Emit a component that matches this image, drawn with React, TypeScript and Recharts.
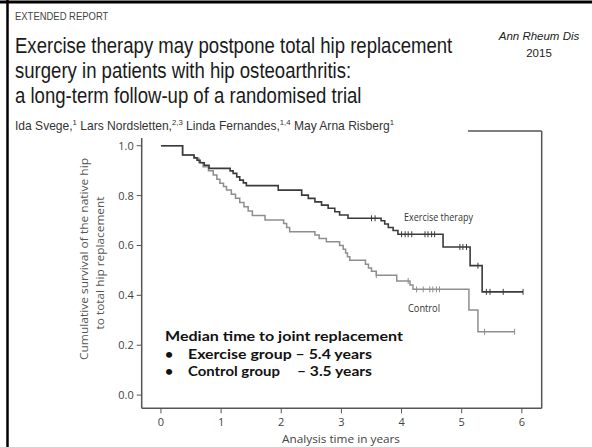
import { ComposedChart, Line, Scatter, XAxis, YAxis } from 'recharts';

// Kaplan-Meier steps (time in years, cumulative survival)
const exerciseTimes = [0, 0.36, 0.55, 0.6, 0.65, 0.72, 0.8, 1.15, 1.2, 1.26, 1.31, 1.37, 1.42, 1.95, 2.34, 2.45, 2.56, 2.67, 2.78, 2.89, 2.97, 3.11, 3.66, 3.72, 3.78, 3.86, 3.94, 4.69, 5.14, 5.34, 6.02];
const exerciseSurvival = [1.0, 0.963, 0.952, 0.942, 0.932, 0.922, 0.909, 0.899, 0.889, 0.875, 0.862, 0.851, 0.84, 0.822, 0.802, 0.789, 0.775, 0.762, 0.749, 0.735, 0.722, 0.709, 0.699, 0.686, 0.672, 0.66, 0.645, 0.594, 0.519, 0.414, 0.414];
const exerciseCensored = [3.5, 3.56, 4.0, 4.06, 4.11, 4.17, 4.39, 4.44, 4.5, 4.55, 4.97, 5.02, 5.08, 5.27, 5.41, 5.47, 5.69, 6.02];

const controlTimes = [0, 0.36, 0.55, 0.63, 0.7, 0.79, 0.87, 0.93, 0.98, 1.04, 1.09, 1.17, 1.24, 1.31, 1.38, 1.45, 1.52, 1.73, 2.04, 2.09, 2.14, 2.56, 2.63, 2.75, 2.97, 3.03, 3.07, 3.1, 3.14, 3.4, 3.45, 3.5, 3.58, 3.92, 4.14, 4.19, 5.12, 5.27, 5.88];
const controlSurvival = [1.0, 0.963, 0.95, 0.933, 0.916, 0.9, 0.883, 0.866, 0.85, 0.836, 0.822, 0.805, 0.789, 0.772, 0.755, 0.738, 0.72, 0.702, 0.688, 0.672, 0.655, 0.642, 0.628, 0.615, 0.6, 0.585, 0.57, 0.555, 0.541, 0.525, 0.51, 0.497, 0.481, 0.458, 0.441, 0.424, 0.341, 0.254, 0.254];
const controlCensored = [3.58, 4.11, 4.25, 4.36, 4.47, 4.52, 4.58, 4.63, 5.38, 5.88];

const xTicks = [0, 1, 2, 3, 4, 5, 6];
const yTicks = [0, 0.2, 0.4, 0.6, 0.8, 1.0];

const toRows = (times: number[], vals: number[]) => times.map((t, i) => ({ t, s: vals[i] }));

// survival value at a censoring time = level of the step curve there
const censorRows = (times: number[], vals: number[], cens: number[]) =>
  cens.map(c => {
    let i = 0;
    while (i + 1 < times.length && times[i + 1] <= c) i++;
    return { t: c, s: vals[i] };
  });

const exerciseData = toRows(exerciseTimes, exerciseSurvival);
const controlData = toRows(controlTimes, controlSurvival);
const exerciseCens = censorRows(exerciseTimes, exerciseSurvival, exerciseCensored);
const controlCens = censorRows(controlTimes, controlSurvival, controlCensored);

const DARK = '#3a3a3a';
const GREY = '#8e8e8e';
const AXIS = '#555';
const chartFont = '"Open Sans", "Liberation Sans", sans-serif';
const headFont = '"Liberation Sans", Arial, sans-serif';
const boldFont = '"Lato", "Open Sans", sans-serif';

const tickMark = (color: string) => (props: any) => {
  const { cx, cy } = props;
  if (cx == null || cy == null) return <g />;
  return <line x1={cx} x2={cx} y1={cy - 3} y2={cy + 3} stroke={color} strokeWidth={1} />;
};

export default function App() {
  return (
    <div style={{ position: 'absolute', left: 0, top: 0, width: 592, height: 447, background: '#fff', overflow: 'hidden' }}>
      <div style={{ position: 'absolute', left: 0, top: 0 }}>
        <ComposedChart width={592} height={447} margin={{ top: 138, right: 50.3, bottom: 8.7, left: 81.7 }}>
          <XAxis
            type="number"
            dataKey="t"
            domain={[-0.32, 6.33]}
            ticks={xTicks}
            allowDataOverflow
            height={30}
            tickSize={5}
            tickMargin={5}
            axisLine={{ stroke: AXIS, strokeWidth: 1.5 }}
            tickLine={{ stroke: AXIS }}
            tick={{ fill: '#444', fontSize: 11, fontFamily: chartFont }}
          />
          <YAxis
            type="number"
            dataKey="s"
            domain={[-0.053, 1.031]}
            ticks={yTicks}
            allowDataOverflow
            width={60}
            tickSize={5}
            tickMargin={3}
            tickFormatter={(v: number) => v.toFixed(1)}
            axisLine={{ stroke: AXIS, strokeWidth: 1.5 }}
            tickLine={{ stroke: AXIS }}
            tick={{ fill: '#444', fontSize: 11, fontFamily: chartFont }}
          />
          <Line data={controlData} dataKey="s" type="stepAfter" stroke={GREY} strokeWidth={1.5} dot={false} isAnimationActive={false} />
          <Line data={exerciseData} dataKey="s" type="stepAfter" stroke={DARK} strokeWidth={1.6} dot={false} isAnimationActive={false} />
          <Scatter data={controlCens} dataKey="s" shape={tickMark(GREY)} isAnimationActive={false} />
          <Scatter data={exerciseCens} dataKey="s" shape={tickMark(DARK)} isAnimationActive={false} />
        </ComposedChart>
      </div>

      <svg width={592} height={447} style={{ position: 'absolute', left: 0, top: 0, pointerEvents: 'none' }}>
        {/* slide border */}
        <line x1={0} x2={592} y1={2} y2={2} stroke="#000" strokeWidth={3} />
        <line x1={7.5} x2={7.5} y1={0} y2={447} stroke="#000" strokeWidth={2.5} />

        {/* remaining frame of the figure */}
        <line x1={468} x2={541.7} y1={131} y2={131} stroke={AXIS} strokeWidth={1.5} />
        <line x1={541.7} x2={541.7} y1={131} y2={408.3} stroke={AXIS} strokeWidth={1.5} />

        <g transform="translate(15 0) scale(0.86 1)" fontFamily={headFont} fill="#444">
          <text x={0} y={20} fontSize={11}>EXTENDED REPORT</text>
        </g>
        <g transform="translate(15 0) scale(0.8436 1)" fontFamily={headFont} fontSize={22} fill="#1a1a1a">
          <text x={0} y={53}>Exercise therapy may postpone total hip replacement</text>
          <text x={0} y={78}>surgery in patients with hip osteoarthritis:</text>
          <text x={0} y={103}>a long-term follow-up of a randomised trial</text>
        </g>
        <text x={539} y={40} textAnchor="middle" fontFamily={headFont} fontStyle="italic" fontSize={11.5} fill="#222">Ann Rheum Dis</text>
        <text x={539} y={57} textAnchor="middle" fontFamily={headFont} fontSize={11.5} fill="#222">2015</text>

        <g transform="translate(15 0) scale(0.965 1)" fontFamily={headFont} fontSize={12.5} fill="#333">
          <text x={0} y={130}>
            Ida Svege,<tspan fontSize={8} dy={-5}>1</tspan>
            <tspan dy={5}> Lars Nordsletten,</tspan><tspan fontSize={8} dy={-5}>2,3</tspan>
            <tspan dy={5}> Linda Fernandes,</tspan><tspan fontSize={8} dy={-5}>1,4</tspan>
            <tspan dy={5}> May Arna Risberg</tspan><tspan fontSize={8} dy={-5}>1</tspan>
          </text>
        </g>

        {/* axis titles */}
        <g fontFamily={chartFont} fontSize={11} fill="#555" textAnchor="middle">
          <text transform="translate(88,259) rotate(-90)" textLength={202} lengthAdjust="spacingAndGlyphs">Cumulative survival of the native hip</text>
          <text transform="translate(104,263) rotate(-90)" textLength={133} lengthAdjust="spacingAndGlyphs">to total hip replacement</text>
        </g>
        <text x={341} y={443} textAnchor="middle" fontFamily={chartFont} fontSize={11.5} fill="#444" textLength={118} lengthAdjust="spacingAndGlyphs">Analysis time in years</text>

        {/* series labels */}
        <text x={404} y={220.5} fontFamily={chartFont} fontSize={10} fill="#333" textLength={69} lengthAdjust="spacingAndGlyphs">Exercise therapy</text>
        <text x={408} y={311.5} fontFamily={chartFont} fontSize={10} fill="#333" textLength={32} lengthAdjust="spacingAndGlyphs">Control</text>

        {/* median annotation */}
        <g fontFamily={boldFont} fontWeight={700} fontSize={14} fill="#111">
          <text x={165} y={341} textLength={238} lengthAdjust="spacingAndGlyphs">Median time to joint replacement</text>
          <text x={165} y={359}>•</text>
          <text x={188} y={359} textLength={184} lengthAdjust="spacingAndGlyphs">Exercise group – 5.4 years</text>
          <text x={165} y={376}>•</text>
          <text x={188} y={376} textLength={92} lengthAdjust="spacingAndGlyphs">Control group</text>
          <text x={297} y={376} textLength={75} lengthAdjust="spacingAndGlyphs">– 3.5 years</text>
        </g>
      </svg>
    </div>
  );
}
